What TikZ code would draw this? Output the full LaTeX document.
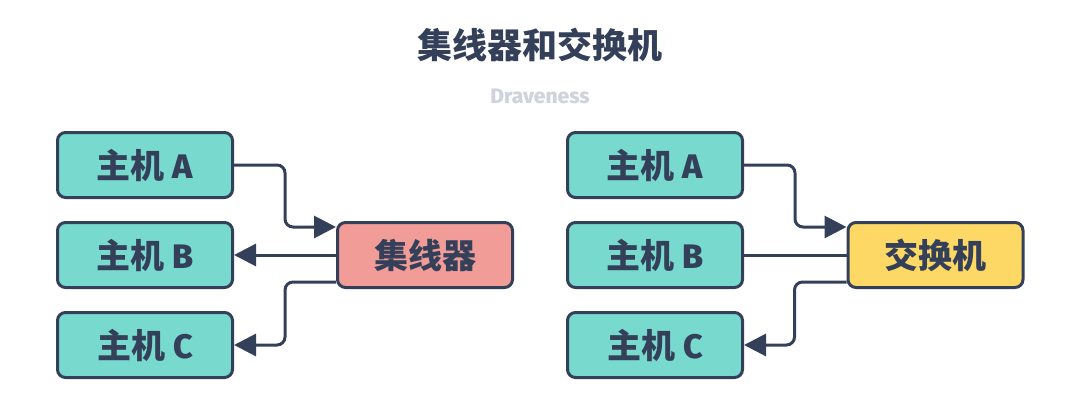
\documentclass[tikz,border=0pt]{standalone}
\usepackage{fontspec}
\IfFontExistsTF{Fira Sans ExtraBold}{\setmainfont{Fira Sans}[BoldFont={Fira Sans ExtraBold}]}{\setmainfont{Fira Sans}}
\IfFontExistsTF{Noto Sans CJK SC Black}{\newfontfamily\cjk{Noto Sans CJK SC}[BoldFont={Noto Sans CJK SC Black}]}{\newfontfamily\cjk{Noto Sans CJK SC}[BoldFeatures={FakeBold=1.2}]}
\usetikzlibrary{arrows.meta}
\definecolor{ink}{HTML}{344059}
\definecolor{teal}{HTML}{78D9CE}
\definecolor{pinkc}{HTML}{F19C96}
\definecolor{yel}{HTML}{FDD865}
\definecolor{sub}{HTML}{D0D3DB}
\tikzset{
  box/.style={draw=ink, line width=3pt, rounded corners=8pt, minimum width=175pt, minimum height=65pt, inner sep=0pt, text=ink, font=\fontsize{34}{38}\selectfont\bfseries},
  host/.style={box, fill=teal},
  conn/.style={draw=ink, line width=3pt, rounded corners=8pt},
  tip/.style={-{Triangle[length=22pt,width=22pt]}}
}
\begin{document}
\begin{tikzpicture}[x=1pt,y=-1pt]
\useasboundingbox (0,0) rectangle (1080,420);
\node[text=ink, font=\fontsize{35}{40}\selectfont\cjk\bfseries] (title) at (540,45) {集线器和交换机};
\node[text=sub, font=\fontsize{21}{24}\selectfont\bfseries] (author) at (540,96) {Draveness};
% left group
\node[host] (la) at (145,165) {{\cjk 主机} A};
\node[host] (lb) at (145,255) {{\cjk 主机} B};
\node[host] (lc) at (145,345) {{\cjk 主机} C};
\node[box, fill=pinkc] (hub) at (425,255) {\cjk 集线器};
\draw[conn, tip] (la.east) -- ++(51,0) |- ([yshift=28pt]hub.west);
\draw[conn, tip] (hub.west) -- (lb.east);
\draw[conn, tip] ([yshift=-27pt]hub.west) -- ++(-51,0) |- (lc.east);
% right group
\node[host] (ra) at (655,165) {{\cjk 主机} A};
\node[host] (rb) at (655,255) {{\cjk 主机} B};
\node[host] (rc) at (655,345) {{\cjk 主机} C};
\node[box, fill=yel] (sw) at (935.5,255) {\cjk 交换机};
\draw[conn, tip] (ra.east) -- ++(51,0) |- ([yshift=28pt]sw.west);
\draw[conn] (sw.west) -- (rb.east);
\draw[conn, tip] ([yshift=-27pt]sw.west) -- ++(-52,0) |- (rc.east);
\end{tikzpicture}
\end{document}
